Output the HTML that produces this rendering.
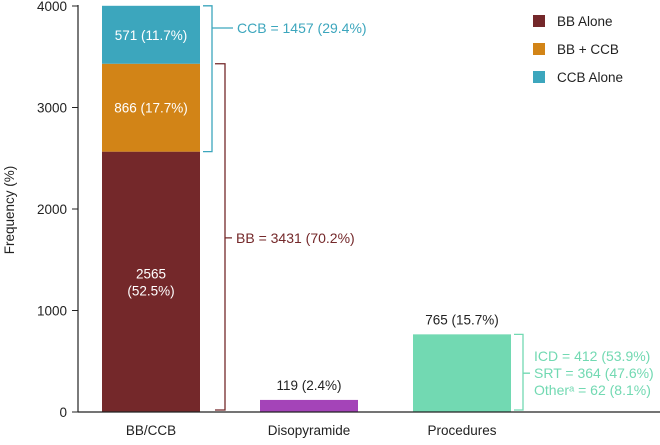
<!DOCTYPE html>
<html><head><meta charset="utf-8"><style>
body{margin:0;background:#fff;}
svg text{font-family:"Liberation Sans",sans-serif;}
</style></head><body>
<svg id="c" width="660" height="440">
<g id="g"></g>
</svg>
<script>
const categories=["BB/CCB","Disopyramide","Procedures"];
const bbAlone=[2565,0,0];
const bbCcb=[866,0,0];
const ccbAlone=[571,0,0];
const singleValues=[0,119,765];
const singleLabels=["","119 (2.4%)","765 (15.7%)"];
const stackLabels=["2565|(52.5%)","866 (17.7%)","571 (11.7%)"];
const yTicks=[0,1000,2000,3000,4000];
const NS="http://www.w3.org/2000/svg";
const g=document.getElementById('g');
const y0=412,yTop=6,yMax=4000;
const y=v=>y0-(v/yMax)*(y0-yTop);
const barX=[102,260,413],barW=98;
const x=i=>barX[i];
function el(t,a,txt){const e=document.createElementNS(NS,t);for(const k in a)e.setAttribute(k,a[k]);if(txt!==undefined)e.textContent=txt;g.appendChild(e);return e;}
const segs=[[bbAlone,"#74282a","bar-bb-alone"],[bbCcb,"#d28417","bar-bb-ccb"],[ccbAlone,"#3ca6bd","bar-ccb-alone"]];
let base=0;
segs.forEach((s,si)=>{const v=s[0][0];const r=el('rect',{x:x(0),y:y(base+v),width:barW,height:y(base)-y(base+v),fill:s[1]});

const lbl=stackLabels[si].split('|');const cy=(y(base)+y(base+v))/2;
lbl.forEach((l,li)=>{const t=el('text',{x:x(0)+barW/2,y:cy+5+(li-(lbl.length-1)/2)*17,'text-anchor':'middle','font-size':13.5,fill:'#fff'},l);
});
base+=v;});
const singleColors=["","#a444b8","#72d9b2"];
[1,2].forEach(i=>{const r=el('rect',{x:x(i),y:y(singleValues[i]),width:barW,height:y0-y(singleValues[i]),fill:singleColors[i]});

const t=el('text',{x:x(i)+barW/2,y:y(singleValues[i])-10,'text-anchor':'middle','font-size':13.5,fill:'#222'},singleLabels[i]);
});
const ya=el('line',{x1:78,y1:5,x2:78,y2:y0,stroke:'#222','stroke-width':1.2});

const xa=el('line',{x1:78,y1:y0,x2:660,y2:y0,stroke:'#222','stroke-width':1.2});

yTicks.forEach(v=>{el('line',{x1:72,y1:y(v),x2:78,y2:y(v),stroke:'#222'});
const t=el('text',{x:67,y:y(v)+5,'text-anchor':'end','font-size':13.5,fill:'#222'},v);
});
categories.forEach((c,i)=>{const t=el('text',{x:x(i)+barW/2,y:435,'text-anchor':'middle','font-size':13.5,fill:'#222'},c);
});
const yt=el('text',{x:0,y:0,transform:'translate(14,210) rotate(-90)','text-anchor':'middle','font-size':13.5,fill:'#222'},'Frequency (%)');

function bracket(x1,x2,ya,yb,ym,tl,col,lines,name){
const p=el('path',{d:`M${x1},${ya}H${x2}V${yb}H${x1}M${x2},${ym}H${x2+tl}`,fill:'none',stroke:col,'stroke-width':1.3});

lines.forEach((l,li)=>{const t=el('text',{x:x2+tl+4,y:ym+5+(li-(lines.length-1)/2)*17,'font-size':14,fill:col},l);
});}
const tot=bbAlone[0]+bbCcb[0]+ccbAlone[0];
bracket(203,212,y(tot),y(bbAlone[0]),28,21,'#3ca6bd',['CCB = 1457 (29.4%)'],'ccb');
bracket(215,225,y(bbAlone[0]+bbCcb[0]),y(0)-2,(y(bbAlone[0]+bbCcb[0])+y(0))/2,7,'#74282a',['BB = 3431 (70.2%)'],'bb');
bracket(514,523,y(singleValues[2]),y(0)-2,(y(singleValues[2])+y(0))/2,7,'#72d9b2',['ICD = 412 (53.9%)','SRT = 364 (47.6%)','Otherᵃ = 62 (8.1%)'],'procedures');
[["BB Alone","#74282a"],["BB + CCB","#d28417"],["CCB Alone","#3ca6bd"]].forEach((l,i)=>{
const r=el('rect',{x:533,y:15+i*28,width:12,height:12,fill:l[1]});

const t=el('text',{x:557,y:26+i*28,'font-size':13.5,fill:'#222'},l[0]);
});
</script>
</body></html>
